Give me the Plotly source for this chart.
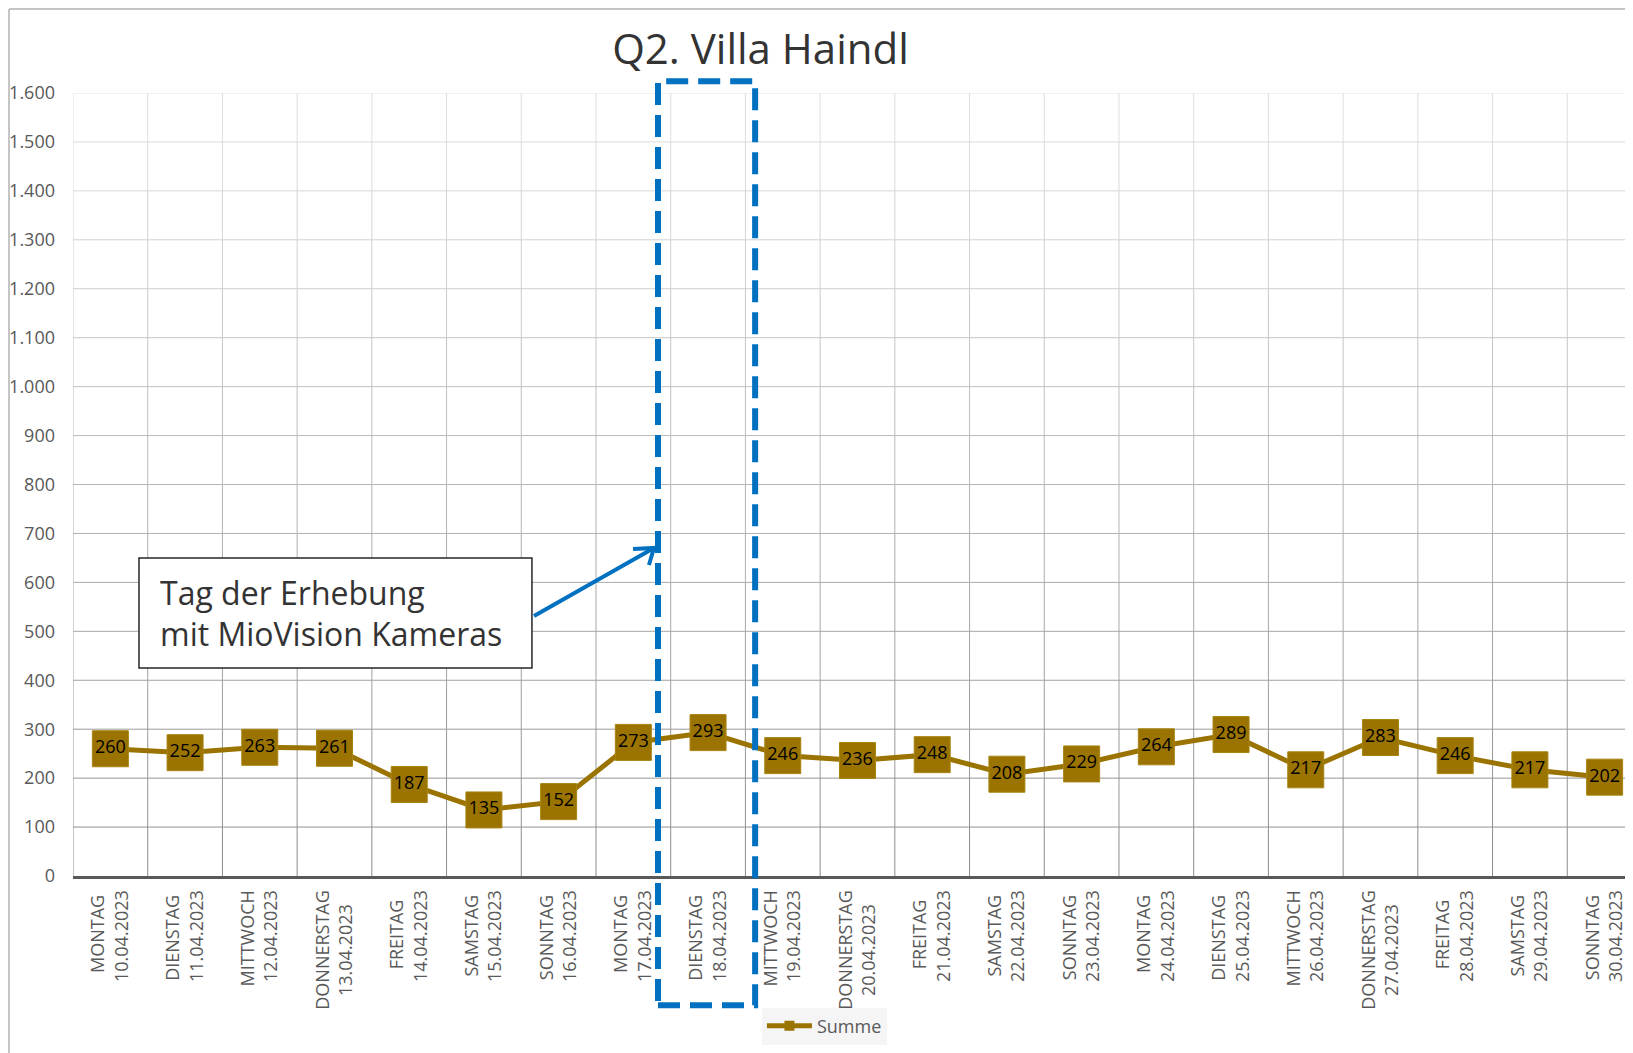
import plotly.graph_objects as go

# ---------------- data ----------------
weekdays = ["MONTAG", "DIENSTAG", "MITTWOCH", "DONNERSTAG", "FREITAG", "SAMSTAG", "SONNTAG",
            "MONTAG", "DIENSTAG", "MITTWOCH", "DONNERSTAG", "FREITAG", "SAMSTAG", "SONNTAG",
            "MONTAG", "DIENSTAG", "MITTWOCH", "DONNERSTAG", "FREITAG", "SAMSTAG", "SONNTAG"]
dates = ["10.04.2023", "11.04.2023", "12.04.2023", "13.04.2023", "14.04.2023", "15.04.2023", "16.04.2023",
         "17.04.2023", "18.04.2023", "19.04.2023", "20.04.2023", "21.04.2023", "22.04.2023", "23.04.2023",
         "24.04.2023", "25.04.2023", "26.04.2023", "27.04.2023", "28.04.2023", "29.04.2023", "30.04.2023"]
summe = [260, 252, 263, 261, 187, 135, 152, 273, 293, 246, 236, 248, 208, 229, 264, 289, 217, 283, 246, 217, 202]
y_ticks = list(range(0, 1700, 100))
highlight_date = "18.04.2023"

# ---------------- styling ----------------
FONT = "Open Sans"
GOLD = "#9A7300"
BLUE = "#0070C0"
LABEL_GRAY = "#595959"

# approximate Open Sans glyph widths (em) used only to centre the two label lines
_W = {"A": .633, "C": .631, "D": .729, "E": .556, "F": .516, "G": .728, "H": .738, "I": .279,
      "M": .907, "N": .764, "O": .78, "R": .618, "S": .549, "T": .553, "W": .928, ".": .268}
NBSP_W = 0.26


def _width(s):
    return sum(_W.get(c, .572) for c in s)


def centred_label(a, b):
    wa, wb = _width(a), _width(b)
    pad = int(round(abs(wa - wb) / 2 / NBSP_W))
    if wa < wb:
        a = a + "\u00a0" * pad
    else:
        b = b + "\u00a0" * pad
    return f"{a}<br>{b}"


xs = list(range(len(dates)))
ticktext = [centred_label(w, d) for w, d in zip(weekdays, dates)]

fig = go.Figure()
fig.add_trace(go.Scatter(
    x=xs, y=summe, mode="lines+markers+text",
    line=dict(color=GOLD, width=5),
    marker=dict(symbol="square", size=36, color=GOLD, line=dict(color="#a88410", width=1)),
    text=[str(v) for v in summe], textposition="middle center",
    textfont=dict(family=FONT, size=18, color="#000000"),
    showlegend=False, hoverinfo="skip",
))
# legend-only entry
fig.add_trace(go.Scatter(
    x=[None], y=[None], mode="lines+markers", name="Summe",
    line=dict(color=GOLD, width=5),
    marker=dict(symbol="square", size=10, color=GOLD),
))

shapes = []


def grid_color(v):
    g = int(round(138 + (v / 1600.0) * (226 - 138)))
    return f"rgb({g},{g},{g})"


# horizontal gridlines (gradient, darker towards bottom, as in reference)
for v in y_ticks[1:]:
    shapes.append(dict(type="line", xref="paper", yref="y", x0=0, x1=1, y0=v, y1=v,
                       line=dict(color=grid_color(v), width=1), layer="below"))
# vertical gridlines at category boundaries, segmented for gradient
for i in range(len(xs) + 1):
    b = i - 0.5
    for k in range(len(y_ticks) - 1):
        y0, y1 = y_ticks[k], y_ticks[k + 1]
        shapes.append(dict(type="line", xref="x", yref="y", x0=b, x1=b, y0=y0, y1=y1,
                           line=dict(color=grid_color((y0 + y1) / 2), width=1), layer="below"))

# dashed highlight rectangle around the survey day
hi = dates.index(highlight_date)
shapes.append(dict(type="rect", xref="x", yref="paper", x0=hi - 0.67, x1=hi + 0.63,
                   y0=-0.165, y1=1.015, line=dict(color=BLUE, width=6, dash="22px,10px"),
                   fillcolor="rgba(0,0,0,0)", layer="above"))

# text box
shapes.append(dict(type="rect", xref="paper", yref="paper", x0=0.0423, x1=0.2942, y0=0.2656, y1=0.4061,
                   line=dict(color="#262626", width=1.5), fillcolor="white", layer="above"))
# arrow
shapes.append(dict(type="line", xref="paper", yref="paper", x0=0.2955, y0=0.3321, x1=0.3724, y1=0.4189,
                   line=dict(color=BLUE, width=4), layer="above"))
shapes.append(dict(type="path", xref="paper", yref="paper",
                   path="M 0.3590 0.4176 L 0.3724 0.4189 L 0.3692 0.3972",
                   line=dict(color=BLUE, width=4), layer="above"))

# outer chart border (left & top visible, at the figure edge)
shapes.append(dict(type="line", xref="paper", yref="paper", x0=-0.0410, x1=-0.0410, y0=-0.25, y1=1.1073,
                   line=dict(color="#c4c4c4", width=2)))
shapes.append(dict(type="line", xref="paper", yref="paper", x0=-0.0410, x1=1.0, y0=1.1073, y1=1.1073,
                   line=dict(color="#c4c4c4", width=2)))

box_lines = ["Tag der Erhebung", "mit MioVision Kameras"]
box_line_y = [0.3627, 0.3091]
annotations = [dict(
    xref="paper", yref="paper", x=0.0545, y=yy, xanchor="left", yanchor="middle",
    text=t, align="left", showarrow=False,
    font=dict(family=FONT, size=32, color="#333333"),
) for t, yy in zip(box_lines, box_line_y)]

# page body has an 8px margin -> shrink the figure and margins by 8px
fig.update_layout(
    width=1625, height=1045,
    margin=dict(l=65, r=0, t=85, b=177),
    paper_bgcolor="white", plot_bgcolor="white",
    separators=",.",
    font=dict(family=FONT, color=LABEL_GRAY),
    title=dict(text="Q2. Villa Haindl", x=0.4407, xref="paper", xanchor="center",
               y=0.9608, yref="container", yanchor="middle",
               font=dict(family=FONT, size=42, color="#333333")),
    xaxis=dict(
        tickmode="array", tickvals=xs, ticktext=ticktext, tickangle=-90,
        range=[-0.5, 20.38], showgrid=False, zeroline=False,
        showline=True, linecolor="#595959", linewidth=3,
        ticks="", ticklabelstandoff=4,
        tickfont=dict(family=FONT, size=18, color=LABEL_GRAY),
    ),
    yaxis=dict(
        range=[0, 1600], tickmode="array", tickvals=y_ticks, separatethousands=True,
        showgrid=False, zeroline=False, showline=False, ticks="",
        ticklabelstandoff=17,
        tickfont=dict(family=FONT, size=18, color=LABEL_GRAY),
    ),
    showlegend=True,
    legend=dict(orientation="h", x=0.4817, xanchor="center", y=-0.1916, yanchor="middle",
                itemwidth=45,
                bgcolor="#f5f5f5", font=dict(family=FONT, size=18, color=LABEL_GRAY)),
    shapes=shapes, annotations=annotations,
)

fig.write_html("out.html")
